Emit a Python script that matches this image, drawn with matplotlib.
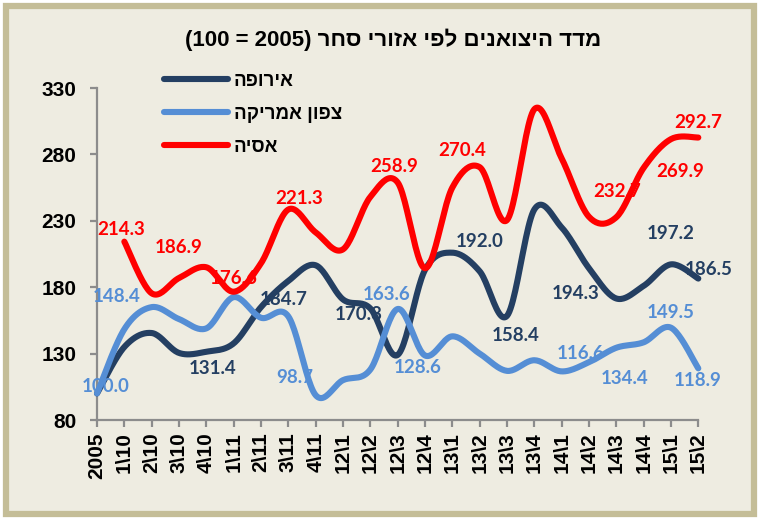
import numpy as np
import matplotlib
matplotlib.use("Agg")
import matplotlib.pyplot as plt
from matplotlib.patches import Rectangle
from matplotlib.lines import Line2D

# ---------------- data ----------------
categories = ["2005", "1\\10", "2\\10", "3\\10", "4\\10", "1\\11", "2\\11", "3\\11", "4\\11",
              "12\\1", "12\\2", "12\\3", "12\\4", "13\\1", "13\\2", "13\\3", "13\\4",
              "14\\1", "14\\2", "14\\3", "14\\4", "15\\1", "15\\2"]

europe = [100.0, 135.0, 145.5, 130.5, 131.4, 137.7, 165.0, 184.7, 196.5, 170.8, 164.0, 129.0,
          193.0, 206.0, 192.0, 158.4, 238.5, 225.0, 194.3, 171.5, 181.0, 197.2, 186.5]
north_america = [100.0, 148.4, 165.0, 156.0, 149.0, 172.5, 157.0, 158.0, 98.7, 110.0, 118.0, 163.6,
                 128.6, 143.0, 130.0, 117.0, 125.0, 116.6, 123.5, 134.4, 138.5, 149.5, 118.9]
asia = [np.nan, 214.3, 175.4, 186.9, 195.0, 176.6, 198.0, 238.5, 221.3, 208.5, 248.0, 258.9,
        194.3, 255.0, 270.4, 230.5, 314.0, 277.0, 233.0, 232.7, 269.9, 291.5, 292.7]

series_names = ["אירופה", "צפון אמריקה", "אסיה"]
title_text = "מדד היצואנים לפי אזורי סחר"
base_year = "2005"
base_value = "100"
y_ticks = [80, 130, 180, 230, 280, 330]

# labelled points: index -> pixel offset (dx right, dy down) of the label centre
europe_labels = {4: (6.6, 16.6), 7: (-5, 19), 9: (15.5, 14.6), 14: (0, -29.6), 15: (8.2, 20.1),
                 18: (-13.5, 25), 21: (0, -30.4), 22: (10.5, -8.6)}
na_labels = {0: (8.2, -6.7), 1: (-7.3, -32.5), 8: (-20.7, -17.9), 11: (-11, -14), 12: (-7.8, 11.8),
             17: (18.6, -17.4), 19: (7.8, 30.5), 21: (0, -15), 22: (-0.5, 11.7)}
asia_labels = {1: (-3.5, -11.7), 3: (0, -30.7), 5: (0, -13.4), 8: (-16.5, -34), 11: (-3, -16.4),
               14: (-17, -17), 19: (1.3, -25.5), 20: (36.8, 3.9), 22: (-0.5, -14.8)}

colors = ["#243F62", "#558ED5", "#FF0000"]


def rtl(s):
    """Hebrew is stored in logical order; matplotlib draws left-to-right."""
    return s[::-1]


def smooth(xs, ys, n=24):
    pts = np.column_stack([xs, ys]).astype(float)
    out = [pts[0]]
    t = np.linspace(0, 1, n)[1:, None]
    for i in range(len(pts) - 1):
        p0 = pts[i - 1] if i > 0 else pts[i]
        p1, p2 = pts[i], pts[i + 1]
        p3 = pts[i + 2] if i + 2 < len(pts) else pts[i + 1]
        c1 = p1 + (p2 - p0) / 6.0
        c2 = p2 - (p3 - p1) / 6.0
        seg = (1 - t) ** 3 * p1 + 3 * (1 - t) ** 2 * t * c1 + 3 * (1 - t) * t ** 2 * c2 + t ** 3 * p2
        out.extend(seg)
    return np.array(out)


W, H = 760, 520
fig = plt.figure(figsize=(W / 100, H / 100), dpi=100, facecolor="white")

# outer frame
fig.patches.append(Rectangle((6 / W, 6 / H), (W - 12) / W, (H - 12) / H, transform=fig.transFigure,
                             facecolor="#EEECE1", edgecolor="#C4BD97", linewidth=4.5, zorder=-10))

ax = fig.add_axes([97 / W, (H - 420) / H, (698.3 - 97) / W, (420 - 88) / H])
ax.set_facecolor("none")
ax.set_zorder(2)

x = np.arange(len(categories))
series = [europe, north_america, asia]
label_sets = [europe_labels, na_labels, asia_labels]

for vals, col, labs in zip(series, colors, label_sets):
    v = np.array(vals, dtype=float)
    m = ~np.isnan(v)
    curve = smooth(x[m], v[m])
    ax.plot(curve[:, 0], curve[:, 1], color=col, lw=4.4, solid_capstyle="round",
            solid_joinstyle="round", zorder=3, clip_on=False)
    for i, (dx, dy) in labs.items():
        ax.annotate(f"{v[i]:.1f}", xy=(x[i], v[i]), xytext=(dx * 0.72, -dy * 0.72),
                    textcoords="offset points", ha="center", va="center",
                    fontsize=13.5, fontweight="bold", family=["Lato", "DejaVu Sans"],
                    color=col, zorder=4, annotation_clip=False)

ax.set_xlim(0, len(categories) - 1)
ax.set_ylim(y_ticks[0], y_ticks[-1])
ax.set_yticks(y_ticks)
ax.set_xticks(x)
ax.set_xticklabels(categories, rotation=90, va="top", ha="center")

for s in ["top", "right"]:
    ax.spines[s].set_visible(False)
for s in ["left", "bottom"]:
    ax.spines[s].set_color("#8C8C8C")
    ax.spines[s].set_linewidth(1.6)

ax.tick_params(axis="both", color="#8C8C8C", width=1.6, length=5, direction="out")
ax.tick_params(axis="y", pad=10)
ax.tick_params(axis="x", pad=4)
for lab in ax.get_yticklabels() + ax.get_xticklabels():
    lab.set_fontfamily(["Liberation Sans", "DejaVu Sans"])
    lab.set_fontweight("bold")
    lab.set_fontsize(15)

# title
fig.text(393 / W, 1 - 40 / H, f"({base_value} = {base_year}) " + rtl(title_text),
         ha="center", va="center", fontsize=16, fontweight="bold",
         family=["Liberation Sans", "DejaVu Sans"], color="black", zorder=5)

# legend
handles = [Line2D([], [], color=c, lw=4.4, solid_capstyle="round") for c in colors]
leg = fig.legend(handles, [rtl(s) for s in series_names], loc="upper left",
                 bbox_to_anchor=(155 / W, 1 - 63 / H), frameon=False, borderpad=0,
                 handlelength=3.4, handletextpad=0.3, labelspacing=0.85,
                 prop={"family": ["Liberation Sans", "DejaVu Sans"], "size": 13.5,
                       "weight": "bold"})
leg.set_zorder(5)

fig.savefig("out.png", dpi=100, facecolor=fig.get_facecolor())
